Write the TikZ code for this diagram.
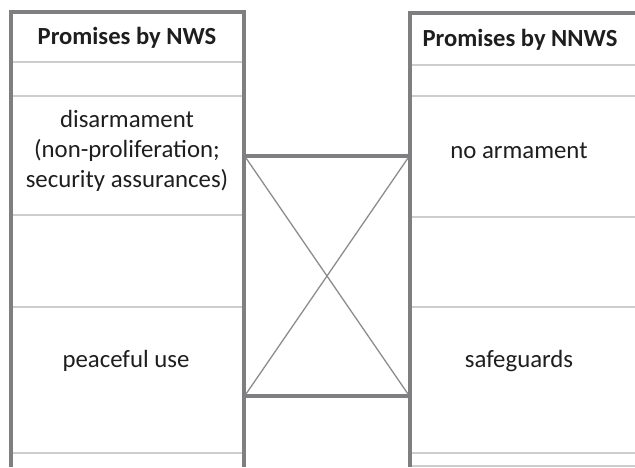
\documentclass[tikz,border=0pt]{standalone}
\usepackage{fontspec}
\setmainfont{Carlito}
\usetikzlibrary{positioning}
\definecolor{framegray}{RGB}{127,127,130}
\definecolor{rulegray}{RGB}{205,205,205}
\definecolor{crossgray}{RGB}{140,140,140}
\definecolor{inkgray}{RGB}{30,30,30}

\begin{document}
\begin{tikzpicture}[x=1pt, y=-1pt, font=\fontsize{24.8}{30}\selectfont,
  frame/.style={line width=4pt, framegray},
  rule/.style={line width=1.3pt, rulegray},
  cross/.style={line width=1.3pt, crossgray},
  cell/.style={align=center, inner sep=0pt, text=inkgray}]
  \useasboundingbox (0,0) rectangle (635,467);

  % NWS column
  \foreach \y in {62,96,215,307,453}
    \draw[rule] (12,\y) -- (242,\y);
  \draw[frame] (10.5,467) -- (10.5,12) -- (244,12) -- (244,467);

  % NNWS column
  \foreach \y in {65,96,217,307,453,466}
    \draw[rule] (412,\y) -- (635,\y);
  \draw[frame] (410,467) -- (410,13) -- (635,13);

  % middle link
  \draw[frame] (244,156) -- (410,156);
  \draw[frame] (244,396) -- (410,396);
  \coordinate (tl) at (246,158);
  \coordinate (tr) at (408,158);
  \coordinate (bl) at (246,394);
  \coordinate (br) at (408,394);
  \draw[cross] (tl) -- (br);
  \draw[cross] (tr) -- (bl);

  % texts
  \node[cell, font=\fontsize{24.6}{30}\selectfont\bfseries] (nwshead) at (127,38) {Promises by NWS};
  \node[cell, font=\fontsize{24.6}{30}\selectfont\bfseries] (nnwshead) at (520,40) {Promises by NNWS};
  \node[cell] (disarm) at (127,151) {disarmament\\(non-proliferation;\\security assurances)};
  \node[cell] (noarm) at (519,151) {no armament};
  \node[cell] (peace) at (126,361) {peaceful use};
  \node[cell] (safeg) at (519,361) {safeguards};
\end{tikzpicture}
\end{document}
